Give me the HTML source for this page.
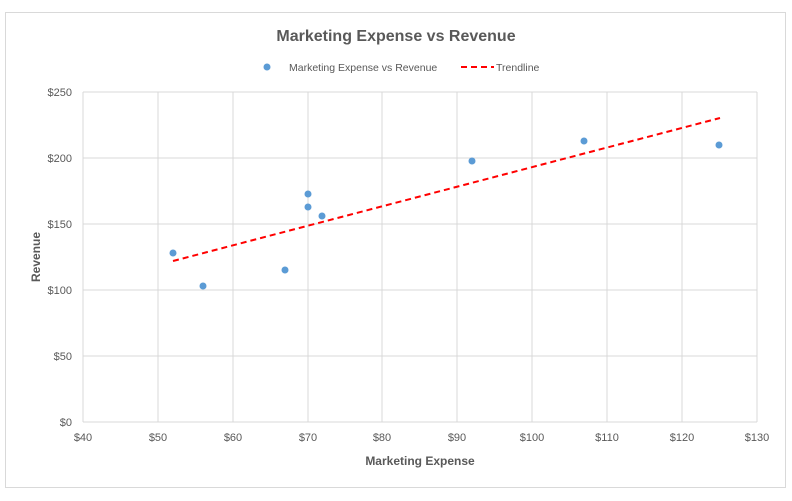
<!DOCTYPE html>
<html><head><style>body{margin:0;background:#fff}svg{display:block}</style></head><body>
<svg width="792" height="501" xmlns="http://www.w3.org/2000/svg" font-family="Liberation Sans, sans-serif">
<rect x="0" y="0" width="792" height="501" fill="#fff"/>
<rect x="5.5" y="12.5" width="780" height="475" fill="#fff" stroke="#d9d9d9"/>
<text x="396" y="41" text-anchor="middle" font-size="16" font-weight="bold" fill="#595959">Marketing Expense vs Revenue</text>
<circle cx="267" cy="67" r="3.5" fill="#5b9bd5"/>
<text x="289" y="71" font-size="10.5" fill="#595959">Marketing Expense vs Revenue</text>
<line x1="461" y1="67" x2="494" y2="67" stroke="#f00" stroke-width="2" stroke-dasharray="6,4"/>
<text x="496" y="71" font-size="10.5" fill="#595959">Trendline</text>
<g stroke="#d9d9d9" stroke-width="1">
<line x1="83" y1="92" x2="757" y2="92"/><line x1="83" y1="158" x2="757" y2="158"/><line x1="83" y1="224" x2="757" y2="224"/><line x1="83" y1="290" x2="757" y2="290"/><line x1="83" y1="356" x2="757" y2="356"/><line x1="83" y1="422" x2="757" y2="422"/>
<line x1="83" y1="92" x2="83" y2="422"/><line x1="158" y1="92" x2="158" y2="422"/><line x1="233" y1="92" x2="233" y2="422"/><line x1="308" y1="92" x2="308" y2="422"/><line x1="382" y1="92" x2="382" y2="422"/><line x1="457" y1="92" x2="457" y2="422"/><line x1="532" y1="92" x2="532" y2="422"/><line x1="607" y1="92" x2="607" y2="422"/><line x1="682" y1="92" x2="682" y2="422"/><line x1="757" y1="92" x2="757" y2="422"/>
</g>
<g font-size="11" fill="#595959" text-anchor="end">
<text x="72" y="96">$250</text><text x="72" y="162">$200</text><text x="72" y="228">$150</text><text x="72" y="294">$100</text><text x="72" y="360">$50</text><text x="72" y="426">$0</text>
</g>
<g font-size="11" fill="#595959" text-anchor="middle">
<text x="83" y="441">$40</text><text x="158" y="441">$50</text><text x="233" y="441">$60</text><text x="308" y="441">$70</text><text x="382" y="441">$80</text><text x="457" y="441">$90</text><text x="532" y="441">$100</text><text x="607" y="441">$110</text><text x="682" y="441">$120</text><text x="757" y="441">$130</text>
</g>
<text x="420" y="465" text-anchor="middle" font-size="12" font-weight="bold" fill="#595959">Marketing Expense</text>
<text transform="translate(40,257) rotate(-90)" text-anchor="middle" font-size="12" font-weight="bold" fill="#595959">Revenue</text>
<line x1="173" y1="261" x2="720" y2="118" stroke="#f00" stroke-width="2" stroke-dasharray="6,4"/>
<g fill="#5b9bd5">
<circle cx="173" cy="253" r="3.5"/><circle cx="203" cy="286" r="3.5"/><circle cx="285" cy="270" r="3.5"/><circle cx="308" cy="194" r="3.5"/><circle cx="308" cy="207" r="3.5"/><circle cx="322" cy="216" r="3.5"/><circle cx="472" cy="161" r="3.5"/><circle cx="584" cy="141" r="3.5"/><circle cx="719" cy="145" r="3.5"/>
</g>
</svg>
</body></html>
